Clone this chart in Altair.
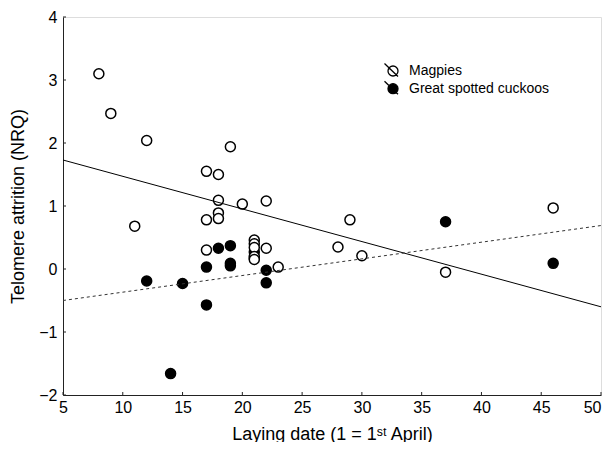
import altair as alt
import pandas as pd

# Magpies (open circles)
mag_x = [8, 9, 12, 11, 17, 18, 19, 18, 18, 18, 17, 17, 20, 22, 21, 21, 21, 21, 21, 22, 23, 28, 29, 30, 37, 46]
mag_y = [3.10, 2.47, 2.04, 0.68, 1.55, 1.50, 1.94, 1.09, 0.89, 0.80, 0.78, 0.30, 1.03, 1.08, 0.46, 0.40, 0.34, 0.20, 0.15, 0.33, 0.03, 0.35, 0.78, 0.21, -0.05, 0.97]

# Great spotted cuckoos (filled circles)
cuc_x = [12, 14, 15, 17, 17, 18, 19, 19, 19, 21, 21, 22, 22, 37, 46]
cuc_y = [-0.19, -1.66, -0.23, 0.03, -0.57, 0.33, 0.37, 0.09, 0.05, 0.27, 0.17, -0.02, -0.22, 0.75, 0.09]

# Regression lines (endpoints at x = 5 and x = 50)
line_x = [5, 50]
mag_line_y = [1.73, -0.60]
cuc_line_y = [-0.50, 0.69]

x_ticks = [5, 10, 15, 20, 25, 30, 35, 40, 45, 50]
y_ticks = [-2, -1, 0, 1, 2, 3, 4]

species = ["Magpies", "Great spotted cuckoos"]

pts = pd.DataFrame({
    "x": mag_x + cuc_x,
    "y": mag_y + cuc_y,
    "species": [species[0]] * len(mag_x) + [species[1]] * len(cuc_x),
    "order": [2] * len(mag_x) + [1] * len(cuc_x),
})
lines_mag = pd.DataFrame({"x": line_x, "y": mag_line_y})
lines_cuc = pd.DataFrame({"x": line_x, "y": cuc_line_y})

FONT = "Liberation Sans"
W, H = 538, 378

xscale = alt.Scale(domain=[5, 50], nice=False, zero=False)
yscale = alt.Scale(domain=[-2, 4], nice=False, zero=False)

xaxis = alt.Axis(values=x_ticks, ticks=False, grid=False, domainColor="#222", domainWidth=1,
                 labelFont=FONT, labelFontSize=16, labelColor="black", labelPadding=4,
                 labelFlush=False, labelOverlap=False,
                 labelAlign={"condition": {"test": "datum.value == 50", "value": "right"}, "value": "center"},
                 title="Laying date (1 = 1ˢᵗ April)", titleFont=FONT, titleFontSize=18,
                 titleFontWeight="normal", titleColor="black", titleBaseline="middle", titleY=39)
yaxis = alt.Axis(values=y_ticks, ticks=False, grid=False, domainColor="#222", domainWidth=1,
                 labelFont=FONT, labelFontSize=16, labelColor="black", labelPadding=6,
                 labelFlush=False, labelOverlap=False,
                 title="Telomere attrition (NRQ)", titleFont=FONT, titleFontSize=18,
                 titleFontWeight="normal", titleColor="black", titleBaseline="middle", titleX=-45)

base_x = alt.X("x:Q", scale=xscale, axis=xaxis)
base_y = alt.Y("y:Q", scale=yscale, axis=yaxis)

points = alt.Chart(pts).mark_point(shape="circle", filled=True, stroke="black", strokeWidth=1.5,
                                    opacity=1, size=100).encode(
    x=base_x,
    y=base_y,
    fill=alt.Fill("species:N", scale=alt.Scale(domain=species, range=["white", "black"]),
                  legend=alt.Legend(title=None, orient="none", legendX=323, legendY=47,
                                    labelFont=FONT, labelFontSize=14, labelColor="black",
                                    symbolType="M-1,0A1,1,0,1,1,1,0A1,1,0,1,1,-1,0Z M-1.7,-1.5L1,1.1",
                                    symbolSize=100, symbolStrokeColor="black", symbolStrokeWidth=1.3,
                                    labelOffset=9, rowPadding=-2.3, padding=0)),
    order=alt.Order("order:Q"),
)

mag_line = alt.Chart(lines_mag).mark_line(color="black", strokeWidth=1).encode(
    x=alt.X("x:Q", scale=xscale, axis=xaxis), y=alt.Y("y:Q", scale=yscale, axis=yaxis))
cuc_line = alt.Chart(lines_cuc).mark_line(color="#333", strokeWidth=1, strokeDash=[3, 3]).encode(
    x=alt.X("x:Q", scale=xscale, axis=xaxis), y=alt.Y("y:Q", scale=yscale, axis=yaxis))

xt = alt.Chart(pd.DataFrame({"x": x_ticks})).mark_rule(color="#222", strokeWidth=1).encode(
    x=alt.X("x:Q", scale=xscale, axis=xaxis), y=alt.value(H), y2=alt.value(H - 3))
yt = alt.Chart(pd.DataFrame({"y": y_ticks})).mark_rule(color="#222", strokeWidth=1).encode(
    y=alt.Y("y:Q", scale=yscale, axis=yaxis), x=alt.value(0), x2=alt.value(3))

chart = alt.layer(xt, yt, points, mag_line, cuc_line).properties(
    width=W, height=H,
    autosize=alt.AutoSizeParams(type="none"),
    padding={"left": 55, "top": 9, "right": 1, "bottom": 47},
).configure_view(stroke=None).configure(background="white")

chart.save("out.html", embed_options={"renderer": "svg", "actions": False})
